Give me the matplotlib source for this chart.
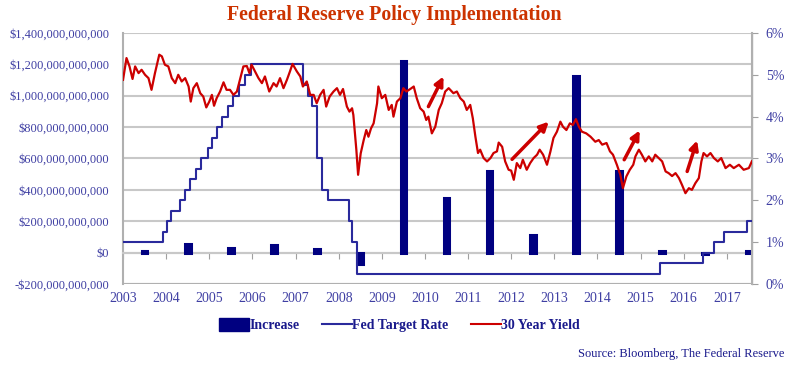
import numpy as np
import matplotlib
matplotlib.use('Agg')
import matplotlib.pyplot as plt
from matplotlib.ticker import FuncFormatter
from matplotlib.patches import Patch
from matplotlib.lines import Line2D

plt.rcParams['font.family'] = ['Liberation Serif', 'DejaVu Serif']

# Increase (bars, left axis, dollars)
bar_years = [2003.5, 2004.5, 2005.5, 2006.5, 2007.5, 2008.5, 2009.5, 2010.5,
             2011.5, 2012.5, 2013.5, 2014.5, 2015.5, 2016.5, 2017.5]
bar_vals = [10e9, 55e9, 30e9, 50e9, 20e9, -70e9, 1223e9, 348e9,
            518e9, 115e9, 1123e9, 518e9, 10e9, -10e9, 10e9]

# Fed target rate (right axis, %), step changes
fed_years = [2003.00, 2003.93, 2004.02, 2004.12, 2004.32, 2004.44, 2004.55, 2004.69,
             2004.81, 2004.96, 2005.06, 2005.17, 2005.29, 2005.44, 2005.56, 2005.70,
             2005.83, 2005.96, 2007.18, 2007.29, 2007.37, 2007.50, 2007.61, 2007.75,
             2008.25, 2008.32, 2008.42, 2015.44, 2016.45, 2016.70, 2016.94, 2017.47,
             2017.58]
fed_rate = [1.00, 1.25, 1.50, 1.75, 2.00, 2.25, 2.50, 2.75,
            3.00, 3.25, 3.50, 3.75, 4.00, 4.25, 4.50, 4.75,
            5.00, 5.25, 4.75, 4.50, 4.25, 3.00, 2.25, 2.00,
            1.50, 1.00, 0.25, 0.50, 0.75, 1.00, 1.25, 1.50,
            1.50]

# 30 year yield (right axis, %)
yld_years = [2003.00, 2003.08, 2003.15, 2003.22, 2003.28, 2003.36, 2003.43, 2003.51, 2003.59, 2003.66,
             2003.74, 2003.84, 2003.90, 2003.97, 2004.05, 2004.13, 2004.21, 2004.28, 2004.36, 2004.44,
             2004.52, 2004.57, 2004.63, 2004.71, 2004.79, 2004.86, 2004.93, 2005.00, 2005.06, 2005.11,
             2005.17, 2005.25, 2005.33, 2005.40, 2005.48, 2005.56, 2005.64, 2005.71, 2005.79, 2005.87,
             2005.93, 2005.98, 2006.06, 2006.14, 2006.22, 2006.29, 2006.39, 2006.49, 2006.56, 2006.64,
             2006.72, 2006.80, 2006.87, 2006.93, 2007.03, 2007.11, 2007.17, 2007.26, 2007.34, 2007.42,
             2007.49, 2007.57, 2007.65, 2007.71, 2007.79, 2007.88, 2007.96, 2008.03, 2008.10, 2008.19,
             2008.25, 2008.31, 2008.34, 2008.41, 2008.45, 2008.51, 2008.58, 2008.64, 2008.69, 2008.75,
             2008.81, 2008.89, 2008.92, 2009.00, 2009.08, 2009.16, 2009.23, 2009.27, 2009.35, 2009.43,
             2009.50, 2009.57, 2009.66, 2009.74, 2009.81, 2009.89, 2009.97, 2010.03, 2010.08, 2010.16,
             2010.24, 2010.32, 2010.39, 2010.47, 2010.55, 2010.66, 2010.74, 2010.82, 2010.90, 2010.97,
             2011.05, 2011.11, 2011.17, 2011.23, 2011.28, 2011.36, 2011.44, 2011.52, 2011.59, 2011.67,
             2011.71, 2011.79, 2011.86, 2011.94, 2012.00, 2012.06, 2012.13, 2012.21, 2012.27, 2012.36,
             2012.44, 2012.52, 2012.60, 2012.66, 2012.74, 2012.83, 2012.91, 2012.98, 2013.06, 2013.14,
             2013.20, 2013.28, 2013.36, 2013.43, 2013.50, 2013.57, 2013.64, 2013.74, 2013.84, 2013.95,
             2014.03, 2014.11, 2014.21, 2014.29, 2014.36, 2014.45, 2014.53, 2014.59, 2014.67, 2014.75,
             2014.83, 2014.88, 2014.96, 2015.03, 2015.11, 2015.19, 2015.27, 2015.34, 2015.42, 2015.50,
             2015.58, 2015.65, 2015.73, 2015.81, 2015.89, 2015.96, 2016.04, 2016.12, 2016.19, 2016.27,
             2016.35, 2016.41, 2016.46, 2016.54, 2016.62, 2016.70, 2016.79, 2016.87, 2016.97, 2017.07,
             2017.16, 2017.28, 2017.39, 2017.51, 2017.58]
yld_vals = [4.88, 5.40, 5.20, 4.90, 5.20, 5.04, 5.12, 5.00, 4.92, 4.64,
            5.04, 5.48, 5.44, 5.24, 5.20, 4.92, 4.80, 5.00, 4.84, 4.92,
            4.72, 4.36, 4.68, 4.80, 4.56, 4.48, 4.22, 4.36, 4.52, 4.26,
            4.44, 4.60, 4.82, 4.64, 4.64, 4.52, 4.60, 4.88, 5.20, 5.21,
            5.04, 5.24, 5.08, 4.92, 4.80, 4.96, 4.60, 4.80, 4.72, 4.92,
            4.68, 4.88, 5.08, 5.26, 5.08, 4.96, 4.72, 4.84, 4.52, 4.52,
            4.32, 4.52, 4.64, 4.24, 4.48, 4.60, 4.68, 4.52, 4.66, 4.24,
            4.12, 4.20, 4.04, 3.20, 2.61, 3.12, 3.44, 3.68, 3.52, 3.72,
            3.84, 4.32, 4.72, 4.44, 4.52, 4.16, 4.28, 4.00, 4.36, 4.44,
            4.68, 4.60, 4.66, 4.72, 4.44, 4.20, 4.12, 3.92, 4.00, 3.60,
            3.76, 4.16, 4.32, 4.60, 4.68, 4.56, 4.60, 4.44, 4.36, 4.16,
            4.28, 3.96, 3.52, 3.13, 3.21, 3.01, 2.93, 3.01, 3.13, 3.17,
            3.38, 3.28, 2.93, 2.73, 2.71, 2.49, 2.89, 2.77, 2.97, 2.73,
            2.89, 3.01, 3.09, 3.21, 3.09, 2.85, 3.17, 3.49, 3.64, 3.88,
            3.76, 3.68, 3.84, 3.80, 3.94, 3.76, 3.64, 3.60, 3.52, 3.40,
            3.44, 3.33, 3.37, 3.17, 3.09, 2.85, 2.61, 2.29, 2.57, 2.73,
            2.85, 3.05, 3.21, 3.09, 2.93, 3.05, 2.93, 3.09, 3.01, 2.93,
            2.69, 2.65, 2.58, 2.65, 2.53, 2.37, 2.17, 2.29, 2.25, 2.41,
            2.53, 2.93, 3.13, 3.05, 3.13, 3.01, 2.93, 3.01, 2.77, 2.85,
            2.77, 2.85, 2.73, 2.77, 2.93]

# red arrows (tail, head) in (year, %)
arrows = [((2010.08, 4.24), (2010.43, 4.96)),
          ((2012.02, 2.98), (2012.87, 3.88)),
          ((2014.62, 2.97), (2014.98, 3.67)),
          ((2016.08, 2.69), (2016.31, 3.43))]

years = list(range(2003, 2018))

navy = '#000080'
fedcol = '#2a2a9c'
red = '#cc0000'
txtcol = '#3f3fa3'
grid = '#c8c8c8'

fig = plt.figure(figsize=(7.99, 3.66), dpi=100)
ax = fig.add_axes([0.154, 0.224, 0.787, 0.686])
ax2 = ax.twinx()

ax.bar(bar_years, bar_vals, width=0.13, color=navy, edgecolor=navy, linewidth=2.2, zorder=3)
ax.set_xlim(2003, 2017.58)
ax.set_ylim(-200e9, 1400e9)
ax.set_yticks(np.arange(-200e9, 1400e9 + 1, 200e9))

def money(v, pos):
    v = int(round(v))
    if v < 0:
        return '-${:,}'.format(-v)
    return '${:,}'.format(v)

ax.yaxis.set_major_formatter(FuncFormatter(money))
ax.grid(axis='y', color=grid, linewidth=1.5, zorder=0)
ax.set_axisbelow(True)
ax.tick_params(axis='y', length=0, labelsize=9, labelcolor=txtcol, pad=10)

# zero line with year ticks
ax.spines['bottom'].set_position(('data', 0))
ax.spines['bottom'].set_color(grid)
ax.spines['bottom'].set_linewidth(1.5)
ax.set_xticks(years)
ax.tick_params(axis='x', direction='out', length=4, color='#a0a0a0', labelbottom=False)
ax.axhline(-200e9, color='#b0b0b0', linewidth=1.5, zorder=1)
sec = ax.secondary_xaxis(0)
sec.set_xticks(years)
sec.tick_params(length=0, labelsize=10, labelcolor=txtcol, pad=6)
sec.spines['bottom'].set_visible(False)

ax.spines['top'].set_visible(False)
ax2.spines['top'].set_visible(False)
ax.spines['left'].set_color('#b0b0b0')
ax.spines['left'].set_linewidth(1.5)
ax2.spines['right'].set_color('#b0b0b0')
ax2.spines['right'].set_linewidth(1.5)
ax2.spines['left'].set_visible(False)
ax2.spines['bottom'].set_visible(False)

ax2.step(fed_years, fed_rate, where='post', color=fedcol, linewidth=1.5, zorder=4)
ax2.plot(yld_years, yld_vals, color=red, linewidth=1.6, zorder=5)
for tail, head in arrows:
    ax2.annotate('', xy=head, xytext=tail,
                 arrowprops=dict(arrowstyle='-|>', color=red, lw=2.5, mutation_scale=13,
                                 shrinkA=0, shrinkB=0))
ax2.set_ylim(0, 6)
ax2.set_yticks(range(0, 7))
ax2.yaxis.set_major_formatter(FuncFormatter(lambda v, p: '{:d}%'.format(int(v))))
ax2.tick_params(axis='y', direction='out', length=4, color='#a0a0a0', labelsize=10,
                labelcolor=txtcol, pad=6)

fig.suptitle('Federal Reserve Policy Implementation', x=0.494, y=0.985,
             fontsize=14.3, fontweight='bold', color='#cc3300')

handles = [Patch(facecolor=navy, edgecolor=navy),
           Line2D([0], [0], color=fedcol, lw=1.5),
           Line2D([0], [0], color=red, lw=1.5)]
leg = fig.legend(handles, ['Increase', 'Fed Target Rate', '30 Year Yield'],
                 loc='center', bbox_to_anchor=(0.5, 0.112), ncol=3, frameon=False,
                 handlelength=2.2, handleheight=1.1, handletextpad=0.0, columnspacing=1.6,
                 prop={'weight': 'bold', 'size': 10})
for t in leg.get_texts():
    t.set_color('#1a1a8c')

fig.text(0.982, 0.033, 'Source: Bloomberg, The Federal Reserve', ha='right', va='center',
         fontsize=9, color='#1a1a8c')

fig.savefig('out.png', dpi=100)
